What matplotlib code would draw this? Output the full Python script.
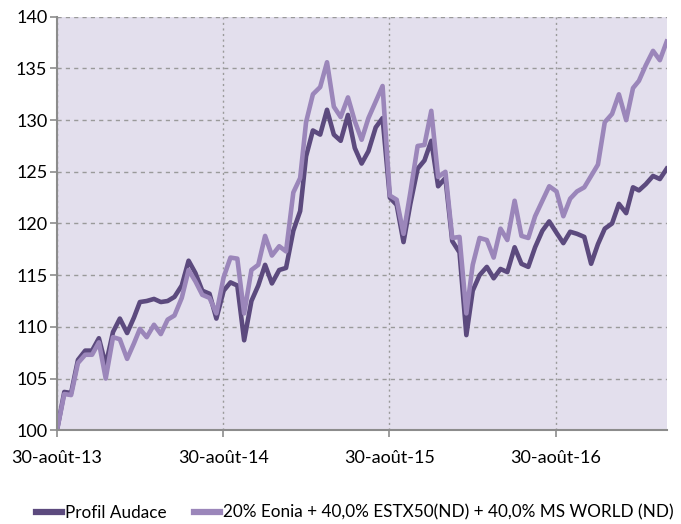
import matplotlib.pyplot as plt
import pandas as pd

# semi-monthly valuation dates, 30 Aug 2013 -> end of April 2017
months = pd.period_range('2013-09', '2017-04', freq='M')
dates = [pd.Timestamp('2013-08-30')]
for m in months:
    dates.append(m.start_time + pd.Timedelta(days=14))
    dates.append(m.end_time.normalize())

audace = [100.0, 103.7, 103.6, 106.8, 107.7, 107.7, 108.9, 106.3, 109.5, 110.8,
          109.4, 110.9, 112.4, 112.5, 112.7, 112.4, 112.5, 112.9, 114.0, 116.4,
          115.2, 113.5, 113.2, 110.8, 113.5, 114.3, 114.0, 108.7, 112.5, 114.0,
          116.0, 114.2, 115.5, 115.7, 119.3, 121.2, 126.5, 129.0, 128.6, 131.0,
          128.6, 128.0, 130.5, 127.3, 125.8, 127.0, 129.3, 130.2, 122.5, 121.8,
          118.2, 121.9, 125.3, 126.1, 128.0, 123.6, 124.4, 118.3, 117.2, 109.2,
          113.5, 115.0, 115.8, 114.7, 115.6, 115.3, 117.7, 116.1, 115.8, 117.7,
          119.3, 120.2, 119.1, 118.1, 119.2, 119.0, 118.7, 116.1, 118.0, 119.5,
          120.0, 121.9, 121.0, 123.5, 123.2, 123.8, 124.6, 124.3, 125.3]

benchmark = [100.0, 103.5, 103.4, 106.5, 107.3, 107.3, 108.5, 105.0, 109.0, 108.8,
             106.9, 108.4, 109.8, 109.0, 110.2, 109.3, 110.7, 111.1, 112.8, 115.5,
             114.4, 113.1, 112.8, 111.3, 114.8, 116.7, 116.6, 111.3, 115.5, 116.0,
             118.8, 116.9, 117.8, 117.3, 123.0, 124.4, 129.8, 132.5, 133.2, 135.6,
             131.3, 130.3, 132.2, 129.9, 128.1, 130.2, 131.8, 133.3, 122.7, 122.3,
             119.0, 123.0, 127.5, 127.6, 130.9, 124.5, 125.0, 118.6, 118.7, 111.3,
             116.0, 118.6, 118.4, 116.7, 119.5, 118.4, 122.2, 118.8, 118.6, 120.7,
             122.2, 123.6, 123.1, 120.7, 122.4, 123.1, 123.5, 124.6, 125.7, 129.8,
             130.6, 132.5, 130.0, 133.1, 133.8, 135.3, 136.7, 135.8, 137.6]

tick_dates = ['2013-08-30', '2014-08-30', '2015-08-30', '2016-08-30']
tick_labels = ['30-août-13', '30-août-14', '30-août-15', '30-août-16']

plt.rcParams['font.family'] = ['Lato', 'DejaVu Sans']

fig = plt.figure(figsize=(6.81, 5.24), dpi=100)
ax = fig.add_axes([0.0837, 0.179, 0.8953, 0.789])
ax.set_facecolor('#e3dfed')

ax.plot(dates, audace, color='#5c4a7e', lw=3.3, label='Profil Audace', zorder=3)
ax.plot(dates, benchmark, color='#9b86ba', lw=3.3,
        label='20% Eonia + 40,0% ESTX50(ND) + 40,0% MS WORLD (ND)', zorder=4)

ax.set_xlim(dates[0], dates[-1])
ax.set_ylim(100, 140)
ax.set_yticks(range(100, 141, 5))
ax.set_xticks([pd.Timestamp(d) for d in tick_dates])
ax.set_xticklabels(tick_labels)

ax.grid(axis='y', color='#9a9a9a', linestyle=(0, (3, 3)), lw=1.0)
ax.grid(axis='x', color='#9a9a9a', linestyle=(0, (1.5, 2.5)), lw=1.0)
ax.set_axisbelow(True)

for s in ['top', 'right']:
    ax.spines[s].set_visible(False)
for s in ['left', 'bottom']:
    ax.spines[s].set_color('#8c8c8c')
    ax.spines[s].set_linewidth(1.5)
    ax.spines[s].set_zorder(5)

ax.tick_params(axis='both', colors='#8c8c8c', labelcolor='black', labelsize=13,
               length=5, width=1.2)
ax.tick_params(axis='y', pad=2)
ax.tick_params(axis='x', pad=9)

leg = ax.legend(loc='upper center', bbox_to_anchor=(0.489, -0.143), ncol=2,
                frameon=False, fontsize=12.3, handlelength=1.5, handletextpad=0.2,
                columnspacing=1.6)
for h in leg.get_lines():
    h.set_linewidth(4.5)

fig.savefig('out.png', dpi=100)
